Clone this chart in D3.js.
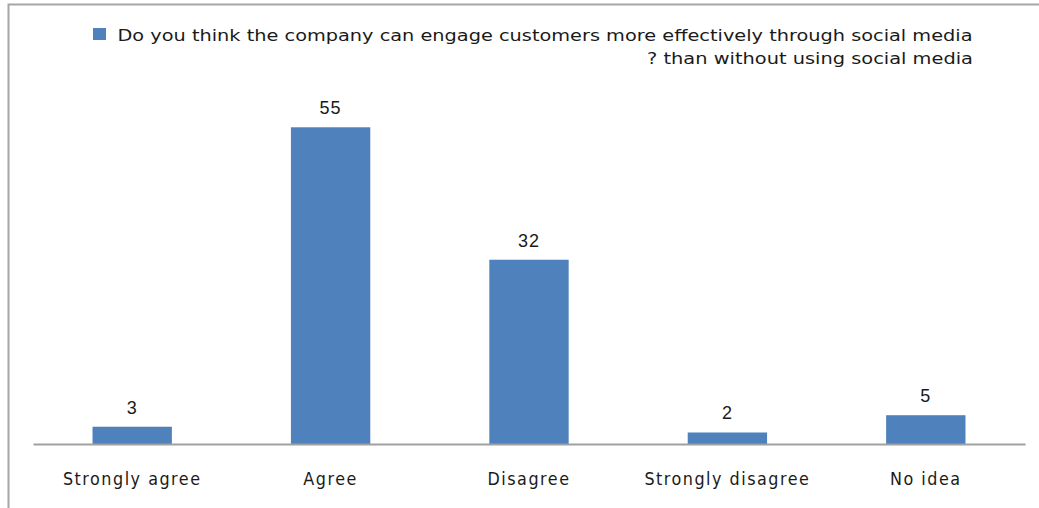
<!DOCTYPE html>
<html>
<head>
<meta charset="utf-8">
<script src="https://cdn.jsdelivr.net/npm/d3@7"></script>
<style>
  html, body { margin: 0; padding: 0; background: #fff; }
  svg { display: block; }
  text { font-family: "DejaVu Sans", Verdana, sans-serif; fill: #1a1a1a; }
</style>
</head>
<body>
<svg id="chart" width="1039" height="508"></svg>
<script>
// Survey responses
const categories = ["Strongly agree", "Agree", "Disagree", "Strongly disagree", "No idea"];
const values = [3, 55, 32, 2, 5];
const seriesLabel = [
  "Do you think the company can engage customers more effectively through social media",
  "? than without using social media"
];

const W = 1039, H = 508;
const svg = d3.select("#chart");

// Chart frame (top and left edges only)
svg.append("path")
  .attr("d", `M8.5,${H} V4.5 H${W}`)
  .attr("fill", "none")
  .attr("stroke", "#a6a6a6")
  .attr("stroke-width", 2);

const x = d3.scaleBand()
  .domain(categories)
  .range([33, 1025])
  .paddingInner(0.6)
  .paddingOuter(0.3);

const y = d3.scaleLinear()
  .domain([0, 60])
  .range([444, 98.5]);

// Bars
svg.append("g")
  .selectAll("rect")
  .data(categories)
  .join("rect")
  .attr("x", d => x(d))
  .attr("width", x.bandwidth())
  .attr("y", (d, i) => y(values[i]))
  .attr("height", (d, i) => y(0) - y(values[i]))
  .attr("fill", "#4f81bd");

// Category axis
const xAxis = svg.append("g")
  .attr("transform", `translate(0,${y(0)})`)
  .call(d3.axisBottom(x).tickSize(0).tickPadding(33).tickSizeOuter(0));
xAxis.select(".domain").attr("stroke", "#a0a0a0").attr("stroke-width", 2);
xAxis.selectAll("text")
  .style("font-family", "DejaVu Sans, sans-serif")
  .attr("font-size", 16)
  .attr("letter-spacing", 1.5)
  .attr("fill", "#1a1a1a")
  .attr("dy", 0)
  .attr("transform", "scale(1,1.15)")
  .attr("y", 41 / 1.15);

// Value labels
svg.append("g")
  .selectAll("text")
  .data(categories)
  .join("text")
  .attr("x", d => x(d) + x.bandwidth() / 2)
  .attr("y", (d, i) => y(values[i]) - 13)
  .attr("text-anchor", "middle")
  .style("font-family", "'Liberation Sans', Arial, sans-serif")
  .attr("font-size", 18)
  .attr("letter-spacing", 1)
  .text((d, i) => values[i]);

// Legend
const legend = svg.append("g");
legend.append("rect")
  .attr("x", 93).attr("y", 28)
  .attr("width", 13).attr("height", 12)
  .attr("fill", "#4f81bd");
legend.append("text")
  .attr("x", 117.5).attr("y", 41)
  .attr("font-size", 16.5)
  .attr("textLength", 855)
  .attr("lengthAdjust", "spacingAndGlyphs")
  .text(seriesLabel[0]);
legend.append("text")
  .attr("x", 647).attr("y", 64)
  .attr("font-size", 16.5)
  .attr("textLength", 326)
  .attr("lengthAdjust", "spacingAndGlyphs")
  .text(seriesLabel[1]);
</script>
</body>
</html>
